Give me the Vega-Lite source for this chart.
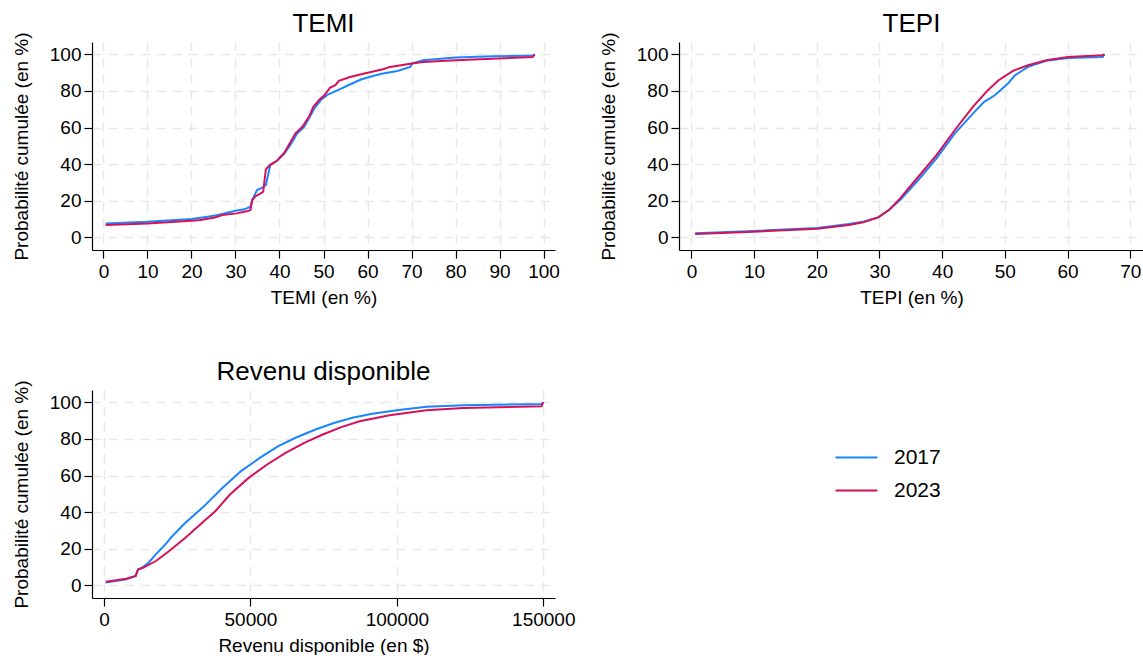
{
  "$schema": "https://vega.github.io/schema/vega-lite/v6.json",
  "padding": {"left": 12, "top": 10, "right": 0, "bottom": 0},
  "background": "white",
  "datasets": {
    "temi": [
      {"year": "2017", "x": 0.5, "y": 7.6}, {"year": "2017", "x": 10, "y": 8.5}, {"year": "2017", "x": 20, "y": 10}, {"year": "2017", "x": 23.7, "y": 11.3}, {"year": "2017", "x": 26, "y": 12.2}, {"year": "2017", "x": 30, "y": 14.5}, {"year": "2017", "x": 32, "y": 15.3}, {"year": "2017", "x": 33.4, "y": 16.7}, {"year": "2017", "x": 33.8, "y": 20.4}, {"year": "2017", "x": 34.9, "y": 25.8}, {"year": "2017", "x": 36.1, "y": 27.1}, {"year": "2017", "x": 36.9, "y": 28.5}, {"year": "2017", "x": 37.9, "y": 39.5}, {"year": "2017", "x": 39.4, "y": 41.8}, {"year": "2017", "x": 41.1, "y": 45.8}, {"year": "2017", "x": 42.7, "y": 51.3}, {"year": "2017", "x": 44, "y": 56.7}, {"year": "2017", "x": 45.6, "y": 60.4}, {"year": "2017", "x": 46.9, "y": 65.8}, {"year": "2017", "x": 47.9, "y": 70.4}, {"year": "2017", "x": 49.4, "y": 75}, {"year": "2017", "x": 51, "y": 78}, {"year": "2017", "x": 53.5, "y": 80.7}, {"year": "2017", "x": 56, "y": 83.5}, {"year": "2017", "x": 58.5, "y": 86.2}, {"year": "2017", "x": 61, "y": 88}, {"year": "2017", "x": 63.5, "y": 89.5}, {"year": "2017", "x": 66.8, "y": 90.9}, {"year": "2017", "x": 69.7, "y": 93.1}, {"year": "2017", "x": 70.1, "y": 94.9}, {"year": "2017", "x": 72.6, "y": 96.7}, {"year": "2017", "x": 80, "y": 98.2}, {"year": "2017", "x": 88.4, "y": 98.9}, {"year": "2017", "x": 97.5, "y": 99.3}, {"year": "2017", "x": 98, "y": 100},
      {"year": "2023", "x": 0.5, "y": 6.7}, {"year": "2023", "x": 10, "y": 7.6}, {"year": "2023", "x": 20, "y": 9.1}, {"year": "2023", "x": 22, "y": 9.5}, {"year": "2023", "x": 25.3, "y": 10.9}, {"year": "2023", "x": 27, "y": 12.2}, {"year": "2023", "x": 30.3, "y": 13.1}, {"year": "2023", "x": 32.8, "y": 14.4}, {"year": "2023", "x": 33.4, "y": 14.9}, {"year": "2023", "x": 33.8, "y": 20.4}, {"year": "2023", "x": 34.6, "y": 22.5}, {"year": "2023", "x": 35.7, "y": 24}, {"year": "2023", "x": 36.3, "y": 24.9}, {"year": "2023", "x": 36.9, "y": 37.1}, {"year": "2023", "x": 37.8, "y": 39.5}, {"year": "2023", "x": 39.4, "y": 41.8}, {"year": "2023", "x": 41.1, "y": 46.2}, {"year": "2023", "x": 42.3, "y": 51.3}, {"year": "2023", "x": 43.6, "y": 56.7}, {"year": "2023", "x": 45.2, "y": 60.4}, {"year": "2023", "x": 46.7, "y": 65.8}, {"year": "2023", "x": 47.7, "y": 71.3}, {"year": "2023", "x": 49, "y": 75}, {"year": "2023", "x": 50.2, "y": 77.6}, {"year": "2023", "x": 51.5, "y": 81.8}, {"year": "2023", "x": 52.7, "y": 83.1}, {"year": "2023", "x": 53.5, "y": 85.5}, {"year": "2023", "x": 56, "y": 87.6}, {"year": "2023", "x": 59.3, "y": 89.5}, {"year": "2023", "x": 63.5, "y": 91.8}, {"year": "2023", "x": 65.1, "y": 93.1}, {"year": "2023", "x": 70.1, "y": 94.9}, {"year": "2023", "x": 72.6, "y": 95.8}, {"year": "2023", "x": 80, "y": 96.7}, {"year": "2023", "x": 88.4, "y": 97.6}, {"year": "2023", "x": 97.5, "y": 98.5}, {"year": "2023", "x": 98, "y": 100}
    ],
    "tepi": [
      {"year": "2017", "x": 0.6, "y": 2.2}, {"year": "2017", "x": 9.9, "y": 3.5}, {"year": "2017", "x": 20.1, "y": 5.1}, {"year": "2017", "x": 25.1, "y": 7.3}, {"year": "2017", "x": 27.4, "y": 8.5}, {"year": "2017", "x": 29.8, "y": 10.9}, {"year": "2017", "x": 31.5, "y": 14.9}, {"year": "2017", "x": 33.3, "y": 20.4}, {"year": "2017", "x": 36.2, "y": 31.3}, {"year": "2017", "x": 39.1, "y": 43.1}, {"year": "2017", "x": 42, "y": 56.7}, {"year": "2017", "x": 44.9, "y": 67.6}, {"year": "2017", "x": 46.7, "y": 74}, {"year": "2017", "x": 48.4, "y": 77.6}, {"year": "2017", "x": 50.5, "y": 84}, {"year": "2017", "x": 51.6, "y": 88.5}, {"year": "2017", "x": 53.7, "y": 93.1}, {"year": "2017", "x": 56.6, "y": 96.4}, {"year": "2017", "x": 60.1, "y": 98}, {"year": "2017", "x": 65.6, "y": 98.5}, {"year": "2017", "x": 65.9, "y": 100},
      {"year": "2023", "x": 0.6, "y": 1.8}, {"year": "2023", "x": 9.9, "y": 3.1}, {"year": "2023", "x": 20.1, "y": 4.7}, {"year": "2023", "x": 25.1, "y": 6.7}, {"year": "2023", "x": 27.4, "y": 8.2}, {"year": "2023", "x": 29.8, "y": 10.9}, {"year": "2023", "x": 31.5, "y": 14.9}, {"year": "2023", "x": 33.3, "y": 21.3}, {"year": "2023", "x": 36.2, "y": 33.1}, {"year": "2023", "x": 39.1, "y": 44.9}, {"year": "2023", "x": 42, "y": 58.5}, {"year": "2023", "x": 44.9, "y": 71.3}, {"year": "2023", "x": 47.3, "y": 80.4}, {"year": "2023", "x": 49, "y": 85.8}, {"year": "2023", "x": 51.3, "y": 90.9}, {"year": "2023", "x": 53.7, "y": 94}, {"year": "2023", "x": 56.6, "y": 96.7}, {"year": "2023", "x": 60.1, "y": 98.5}, {"year": "2023", "x": 65.6, "y": 99.5}, {"year": "2023", "x": 65.9, "y": 100}
    ],
    "rev": [
      {"year": "2017", "x": 600, "y": 1.5}, {"year": "2017", "x": 7600, "y": 3.3}, {"year": "2017", "x": 10800, "y": 5.1}, {"year": "2017", "x": 11600, "y": 8.7}, {"year": "2017", "x": 13300, "y": 10}, {"year": "2017", "x": 15200, "y": 12.4}, {"year": "2017", "x": 17700, "y": 16.9}, {"year": "2017", "x": 21500, "y": 23.3}, {"year": "2017", "x": 22800, "y": 26}, {"year": "2017", "x": 27800, "y": 34.2}, {"year": "2017", "x": 34200, "y": 43.3}, {"year": "2017", "x": 40500, "y": 53.3}, {"year": "2017", "x": 46800, "y": 62.4}, {"year": "2017", "x": 53200, "y": 69.6}, {"year": "2017", "x": 59500, "y": 76}, {"year": "2017", "x": 65800, "y": 80.9}, {"year": "2017", "x": 72200, "y": 85.1}, {"year": "2017", "x": 78500, "y": 88.7}, {"year": "2017", "x": 84800, "y": 91.5}, {"year": "2017", "x": 91100, "y": 93.6}, {"year": "2017", "x": 100000, "y": 95.6}, {"year": "2017", "x": 110100, "y": 97.5}, {"year": "2017", "x": 122800, "y": 98.4}, {"year": "2017", "x": 149400, "y": 99.1}, {"year": "2017", "x": 150000, "y": 100},
      {"year": "2023", "x": 600, "y": 2}, {"year": "2023", "x": 7600, "y": 3.6}, {"year": "2023", "x": 10800, "y": 5.1}, {"year": "2023", "x": 11600, "y": 8.7}, {"year": "2023", "x": 13300, "y": 9.6}, {"year": "2023", "x": 17700, "y": 13.3}, {"year": "2023", "x": 21500, "y": 17.8}, {"year": "2023", "x": 27800, "y": 26}, {"year": "2023", "x": 34200, "y": 35.1}, {"year": "2023", "x": 38000, "y": 40.5}, {"year": "2023", "x": 43000, "y": 49.6}, {"year": "2023", "x": 49400, "y": 58.7}, {"year": "2023", "x": 55700, "y": 66}, {"year": "2023", "x": 62000, "y": 72.4}, {"year": "2023", "x": 68400, "y": 77.8}, {"year": "2023", "x": 74700, "y": 82.4}, {"year": "2023", "x": 81000, "y": 86.4}, {"year": "2023", "x": 87300, "y": 89.6}, {"year": "2023", "x": 97500, "y": 92.9}, {"year": "2023", "x": 110100, "y": 95.6}, {"year": "2023", "x": 122800, "y": 96.9}, {"year": "2023", "x": 149400, "y": 97.8}, {"year": "2023", "x": 150000, "y": 100}
    ]
  },
  "columns": 2,
  "spacing": {"row": 140, "column": 124},
  "bounds": "flush",
  "concat": [
    {
      "title": "TEMI",
      "width": 463, "height": 208,
      "data": {"name": "temi"},
      "mark": {"type": "line", "strokeWidth": 2, "clip": true},
      "encoding": {
        "x": {"field": "x", "type": "quantitative", "scale": {"domain": [-2.6, 102.6], "nice": false, "zero": false}, "axis": {"title": "TEMI (en %)", "values": [0,10,20,30,40,50,60,70,80,90,100]}},
        "y": {"field": "y", "type": "quantitative", "scale": {"domain": [-6.9, 106.7], "nice": false, "zero": false}, "axis": {"title": "Probabilité cumulée (en %)", "values": [0,20,40,60,80,100]}},
        "color": {"field": "year", "type": "nominal", "scale": {"domain": ["2017", "2023"], "range": ["#1a85ff", "#d41159"]}, "legend": {"title": null}}
      }
    },
    {
      "title": "TEPI",
      "width": 465, "height": 208,
      "data": {"name": "tepi"},
      "mark": {"type": "line", "strokeWidth": 2, "clip": true},
      "encoding": {
        "x": {"field": "x", "type": "quantitative", "scale": {"domain": [-1.98, 72.2], "nice": false, "zero": false}, "axis": {"title": "TEPI (en %)", "values": [0,10,20,30,40,50,60,70]}},
        "y": {"field": "y", "type": "quantitative", "scale": {"domain": [-6.9, 106.7], "nice": false, "zero": false}, "axis": {"title": "Probabilité cumulée (en %)", "values": [0,20,40,60,80,100]}},
        "color": {"field": "year", "type": "nominal", "scale": {"domain": ["2017", "2023"], "range": ["#1a85ff", "#d41159"]}, "legend": {"title": null}}
      }
    },
    {
      "title": "Revenu disponible",
      "width": 463, "height": 208,
      "data": {"name": "rev"},
      "mark": {"type": "line", "strokeWidth": 2, "clip": true},
      "encoding": {
        "x": {"field": "x", "type": "quantitative", "scale": {"domain": [-4100, 154000], "nice": false, "zero": false}, "axis": {"title": "Revenu disponible (en $)", "values": [0,50000,100000,150000], "format": "d"}},
        "y": {"field": "y", "type": "quantitative", "scale": {"domain": [-6.9, 106.7], "nice": false, "zero": false}, "axis": {"title": "Probabilité cumulée (en %)", "values": [0,20,40,60,80,100]}},
        "color": {"field": "year", "type": "nominal", "scale": {"domain": ["2017", "2023"], "range": ["#1a85ff", "#d41159"]}, "legend": {"title": null}}
      }
    }
  ],
  "config": {
    "font": "Liberation Sans",
    "view": {"stroke": null},
    "axis": {
      "domainColor": "#000", "domainWidth": 1.2, "tickColor": "#000", "tickWidth": 1.2, "tickSize": 8,
      "labelColor": "#000", "titleColor": "#000", "labelFontSize": 19, "titleFontSize": 19, "titleFontWeight": "normal",
      "labelFont": "Liberation Sans", "titleFont": "Liberation Sans",
      "gridColor": "#e8e8e8", "gridDash": [9, 7], "gridWidth": 1.5
    },
    "axisX": {"titlePadding": 7, "labelPadding": 4},
    "axisY": {"titlePadding": 18, "labelPadding": 3},
    "title": {"fontSize": 26, "fontWeight": "normal", "color": "#000", "anchor": "middle", "font": "Liberation Sans", "offset": -5},
    "legend": {
      "orient": "none", "legendX": 742, "legendY": 393,
      "symbolType": "stroke", "symbolSize": 1764, "symbolStrokeWidth": 2.2,
      "labelFontSize": 21, "labelColor": "#000", "labelFont": "Liberation Sans", "labelOffset": 15, "rowPadding": -9
    }
  }
}
